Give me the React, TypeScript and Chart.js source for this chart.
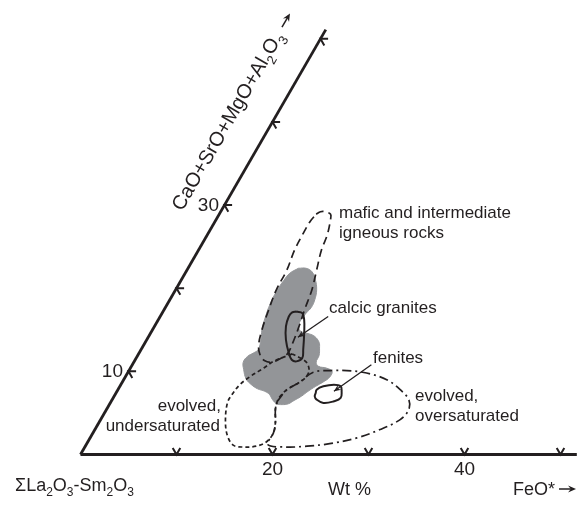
import React, { useEffect, useRef } from 'react';
import { Chart, registerables } from 'chart.js';

Chart.register(...registerables);

// ---- Ternary (wt %) data: fe = FeO*, ca = CaO+SrO+MgO+Al2O3 ----
const axisTicks = [10, 20, 30, 40, 50];
const feoTickLabels = [20, 40];
const caoTickLabels = [10, 30];
const feoAxisEnd = 51.7;
const caoAxisEnd = 51.1;

const maficFe = [10.1, 10.4, 10.9, 11.6, 11.9, 12.5, 12.8, 13.5, 14.2, 14.6, 15.1, 15.4, 15.5, 15.0, 14.4, 13.5, 12.7, 12.0, 11.4, 10.9, 10.5, 10.4, 10.0, 9.9, 9.9];
const maficCa = [28.9, 29.2, 29.2, 28.9, 28.3, 26.4, 24.6, 22.2, 19.8, 17.6, 15.2, 13.4, 12.1, 11.5, 11.1, 11.3, 12.0, 13.1, 15.0, 17.4, 19.8, 22.2, 24.6, 26.6, 28.0];

const underFe = [16.0, 14.5, 13.9, 13.0, 12.4, 12.2, 12.2, 13.2, 14.3, 15.4, 16.5, 17.8, 18.6, 18.8, 18.4, 17.6, 17.3, 17.3, 17.6, 18.4, 18.8, 18.8, 18.1, 17.1];
const underCa = [12.1, 11.2, 10.4, 9.4, 8.4, 7.4, 6.2, 3.8, 2.1, 1.1, 0.9, 1.0, 1.5, 2.6, 3.8, 5.4, 6.4, 7.0, 7.8, 8.6, 9.2, 10.0, 11.0, 11.6];

const overFe = [17.3, 17.6, 18.4, 19.3, 21.0, 22.7, 24.9, 27.4, 29.4, 30.9, 31.5, 31.2, 29.7, 27.8, 25.3, 23.1, 20.9, 18.9, 18.8, 18.4, 17.6];
const overCa = [6.4, 7.8, 8.6, 9.9, 10.1, 10.1, 9.8, 9.0, 7.8, 6.6, 5.4, 4.2, 3.0, 2.0, 1.3, 1.0, 0.9, 1.2, 2.6, 3.8, 5.4];

const fenFe = [20.8, 20.7, 21.2, 22.2, 23.0, 23.4, 23.7, 23.2, 22.2, 21.3, 20.9];
const fenCa = [7.4, 7.8, 8.2, 8.4, 8.2, 7.6, 6.8, 6.4, 6.2, 6.6, 7.0];

const calcFe = [13.9, 14.6, 15.2, 16.0, 16.9, 17.3, 16.9, 16.3, 15.6, 14.5, 13.7, 13.4, 13.5];
const calcCa = [17.2, 17.0, 16.2, 14.6, 12.6, 11.6, 11.2, 11.4, 12.2, 13.8, 15.4, 16.6, 17.1];

const grayFe = [11.5, 12.3, 13.1, 13.9, 14.7, 15.1, 15.2, 15.0, 14.9, 14.9, 15.3, 15.8, 16.6, 17.3, 18.1, 18.5, 18.9, 19.0, 19.5, 20.4, 21.2, 21.3, 20.9, 20.4, 19.9, 19.5, 19.0, 18.6, 18.0, 17.4, 16.7, 16.1, 15.4, 14.5, 13.6, 12.7, 11.9, 11.4, 11.5, 11.9, 12.2, 11.9, 11.4, 11.0, 10.7, 10.6, 10.7, 10.9];
const grayCa = [22.4, 22.4, 22.0, 21.1, 19.8, 18.6, 17.7, 17.0, 16.4, 15.7, 15.0, 14.7, 14.5, 14.2, 13.5, 12.8, 11.9, 11.1, 10.6, 10.4, 10.0, 9.3, 8.7, 8.2, 7.6, 7.0, 6.5, 6.1, 6.0, 6.1, 6.6, 7.2, 7.6, 7.9, 8.4, 9.1, 10.2, 11.1, 11.8, 12.2, 12.6, 13.8, 15.0, 16.5, 18.1, 19.7, 20.9, 21.8];

const calcArrowFe = [17.5, 15.6];
const calcArrowCa = [16.6, 14.1];
const fenArrowFe = [24.9, 22.6];
const fenArrowCa = [10.8, 7.6];

// ---- styling ----
const INK = '#231f20';
const GRAY = '#939598';
const FONT = '"Liberation Sans", Arial, Helvetica, sans-serif';
const SIN60 = Math.sqrt(3) / 2;

function toXY(fe: number[], ca: number[], close: boolean) {
  const pts = fe.map((f, i) => ({ x: f + ca[i] / 2, y: ca[i] * SIN60 }));
  if (close) pts.push({ ...pts[0] });
  return pts;
}

type Part = [string, boolean];

function drawRich(ctx: CanvasRenderingContext2D, parts: Part[], x: number, y: number, size: number, align: 'left' | 'center' | 'right') {
  const sub = Math.round(size * 0.66);
  let w = 0;
  for (const [t, isSub] of parts) {
    ctx.font = `${isSub ? sub : size}px ${FONT}`;
    w += ctx.measureText(t).width;
  }
  let cx = align === 'left' ? x : align === 'center' ? x - w / 2 : x - w;
  const start = cx;
  ctx.textAlign = 'left';
  ctx.textBaseline = 'alphabetic';
  for (const [t, isSub] of parts) {
    ctx.font = `${isSub ? sub : size}px ${FONT}`;
    ctx.fillText(t, cx, isSub ? y + size * 0.3 : y);
    cx += ctx.measureText(t).width;
  }
  return { start, end: start + w };
}

function arrowHead(ctx: CanvasRenderingContext2D, x1: number, y1: number, x2: number, y2: number, len: number, half: number) {
  const a = Math.atan2(y2 - y1, x2 - x1);
  const c = Math.cos(a), s = Math.sin(a);
  ctx.beginPath();
  ctx.moveTo(x2, y2);
  ctx.lineTo(x2 - len * c + half * s, y2 - len * s - half * c);
  ctx.lineTo(x2 - 0.65 * len * c, y2 - 0.65 * len * s);
  ctx.lineTo(x2 - len * c - half * s, y2 - len * s + half * c);
  ctx.closePath();
  ctx.fill();
}

const decorPlugin = {
  id: 'decor',
  afterDatasetsDraw(chart: any) {
    const ctx: CanvasRenderingContext2D = chart.ctx;
    const xs = chart.scales.x;
    const ys = chart.scales.y;
    const P = (fe: number, ca: number) => ({
      px: xs.getPixelForValue(fe + ca / 2),
      py: ys.getPixelForValue(ca * SIN60),
    });
    ctx.save();
    ctx.strokeStyle = INK;
    ctx.fillStyle = INK;
    ctx.lineWidth = 2;
    ctx.lineJoin = 'miter';

    // tick chevrons
    for (const t of axisTicks) {
      const b = P(t, 0);
      ctx.beginPath();
      ctx.moveTo(b.px - 3.8, b.py - 6.6);
      ctx.lineTo(b.px, b.py);
      ctx.lineTo(b.px + 3.8, b.py - 6.6);
      ctx.stroke();
      const l = P(0, t);
      ctx.beginPath();
      ctx.moveTo(l.px + 7.6, l.py);
      ctx.lineTo(l.px, l.py);
      ctx.lineTo(l.px + 3.8, l.py + 6.6);
      ctx.stroke();
    }

    // tick labels
    for (const t of feoTickLabels) {
      const b = P(t, 0);
      drawRich(ctx, [[String(t), false]], b.px, b.py + 20.5, 19, 'center');
    }
    for (const t of caoTickLabels) {
      const l = P(0, t);
      drawRich(ctx, [[String(t), false]], l.px - 5.5, l.py + 5.8, 19, 'right');
    }

    // pointer arrows
    ctx.lineWidth = 1.3;
    const pointer = (fe: number[], ca: number[]) => {
      const a = P(fe[0], ca[0]);
      const b = P(fe[1], ca[1]);
      ctx.beginPath();
      ctx.moveTo(a.px, a.py);
      ctx.lineTo(b.px, b.py);
      ctx.stroke();
      arrowHead(ctx, a.px, a.py, b.px, b.py, 7, 3);
    };
    pointer(calcArrowFe, calcArrowCa);
    pointer(fenArrowFe, fenArrowCa);

    // field labels
    const S = 17;
    drawRich(ctx, [['mafic and intermediate', false]], 339, 218, S, 'left');
    drawRich(ctx, [['igneous rocks', false]], 339, 238, S, 'left');
    drawRich(ctx, [['calcic granites', false]], 329, 313, S, 'left');
    drawRich(ctx, [['fenites', false]], 373, 363, S, 'left');
    drawRich(ctx, [['evolved,', false]], 415, 401, S, 'left');
    drawRich(ctx, [['oversaturated', false]], 415, 421, S, 'left');
    drawRich(ctx, [['evolved,', false]], 221, 411, S, 'right');
    drawRich(ctx, [['undersaturated', false]], 220, 431, S, 'right');

    // bottom axis titles
    drawRich(ctx, [['\u03A3La', false], ['2', true], ['O', false], ['3', true], ['-Sm', false], ['2', true], ['O', false], ['3', true]], 15, 491, 18, 'left');
    drawRich(ctx, [['Wt %', false]], 328, 495, 18, 'left');
    const fe = drawRich(ctx, [['FeO*', false]], 513, 495, 18, 'left');
    ctx.lineWidth = 1.5;
    const ay = 489;
    const ax1 = fe.end + 4;
    const ax2 = ax1 + 17;
    ctx.beginPath();
    ctx.moveTo(ax1, ay);
    ctx.lineTo(ax2 - 4, ay);
    ctx.stroke();
    arrowHead(ctx, ax1, ay, ax2, ay, 8, 3.5);

    // inclined axis title
    ctx.save();
    ctx.translate(229, 123);
    ctx.rotate(-Math.PI / 3);
    const lab = drawRich(ctx, [['CaO+SrO+MgO+Al', false], ['2', true], ['O', false], ['3', true]], 1, 4, 20, 'center');
    const s1 = lab.end + 7;
    const s2 = s1 + 16;
    ctx.beginPath();
    ctx.moveTo(s1, -2);
    ctx.lineTo(s2 - 4, -2);
    ctx.stroke();
    arrowHead(ctx, s1, -2, s2, -2, 8, 3.5);
    ctx.restore();

    ctx.restore();
  },
};

export default function App() {
  const ref = useRef<HTMLCanvasElement>(null);
  useEffect(() => {
    document.body.style.margin = '0';
    const base = { pointRadius: 0, borderColor: INK, borderWidth: 1.7, tension: 0.35, fill: false, showLine: true };
    const chart = new Chart(ref.current as HTMLCanvasElement, {
      type: 'scatter',
      data: {
        datasets: [
          { ...base, data: toXY([0, feoAxisEnd], [0, 0], false), borderWidth: 2.8, tension: 0 },
          { ...base, data: toXY([0, 0], [0, caoAxisEnd], false), borderWidth: 2.8, tension: 0 },
          { ...base, data: toXY(calcFe, calcCa, true), borderWidth: 2, tension: 0.4 },
          { ...base, data: toXY(fenFe, fenCa, true), borderWidth: 2, tension: 0.4 },
          { ...base, data: toXY(maficFe, maficCa, true), borderDash: [8, 5] },
          { ...base, data: toXY(underFe, underCa, true), borderDash: [4, 3] },
          { ...base, data: toXY(overFe, overCa, true), borderDash: [9, 4, 2, 4] },
          { ...base, data: toXY(grayFe, grayCa, true), borderWidth: 1, borderColor: GRAY, backgroundColor: GRAY, fill: 'shape', tension: 0.4 },
        ] as any,
      },
      options: {
        responsive: false,
        animation: false,
        events: [],
        layout: { padding: 0 },
        plugins: { legend: { display: false }, tooltip: { enabled: false } },
        scales: {
          x: { type: 'linear', display: false, min: -80.5 / 9.6, max: (581 - 80.5) / 9.6 },
          y: { type: 'linear', display: false, min: -(506 - 454.5) / 9.6, max: 454.5 / 9.6 },
        },
      },
      plugins: [decorPlugin],
    });
    return () => chart.destroy();
  }, []);
  return (
    <div style={{ width: 581, height: 506 }}>
      <canvas ref={ref} width={581} height={506} style={{ display: 'block' }} />
    </div>
  );
}
